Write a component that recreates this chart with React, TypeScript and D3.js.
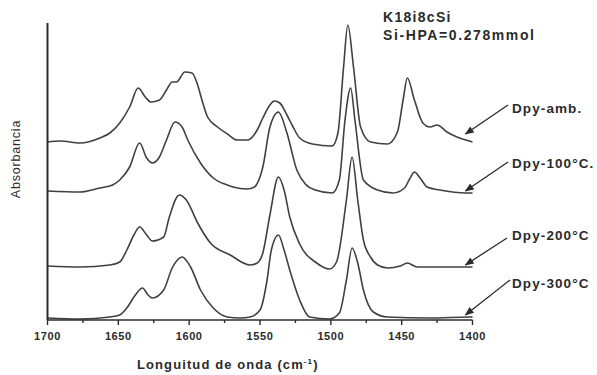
import React from "react";
import * as d3 from "d3";

// Wavenumber (cm^-1), absorbance (offset traces)
const ambWn = [1700,1691,1677,1663,1656,1649,1642,1636,1631,1627,1621,1616,1612,1609,1603,1598,1594,1591,1587,1580,1573,1566,1559,1552,1548,1543,1540,1536,1531,1527,1522,1513,1499,1495,1491,1488,1484,1479,1472,1460,1453,1449,1446,1441,1435,1430,1425,1418,1411,1407,1400];
const ambAbs = [1.78,1.79,1.77,1.82,1.87,1.97,2.13,2.32,2.23,2.18,2.20,2.30,2.38,2.38,2.48,2.47,2.35,2.20,2.03,1.93,1.86,1.80,1.80,1.90,2.02,2.15,2.19,2.17,2.05,1.94,1.82,1.76,1.74,1.87,2.53,2.95,2.53,1.93,1.78,1.76,1.88,2.20,2.42,2.20,1.97,1.93,1.95,1.88,1.83,1.81,1.78];

const t100Wn = [1700,1677,1663,1654,1649,1642,1635,1630,1626,1621,1616,1610,1605,1601,1592,1583,1573,1569,1559,1554,1548,1543,1537,1531,1524,1518,1511,1499,1494,1490,1486,1483,1477,1467,1456,1448,1444,1441,1437,1432,1423,1404,1400];
const t100Abs = [1.29,1.28,1.32,1.35,1.40,1.53,1.77,1.62,1.57,1.63,1.80,1.98,1.93,1.80,1.57,1.42,1.35,1.33,1.31,1.33,1.53,1.93,2.08,1.87,1.50,1.36,1.30,1.27,1.40,2.00,2.32,2.00,1.40,1.30,1.27,1.32,1.42,1.48,1.42,1.33,1.30,1.27,1.27];

const t200Wn = [1700,1677,1656,1649,1644,1639,1635,1630,1626,1618,1614,1607,1602,1594,1585,1571,1557,1552,1548,1543,1537,1533,1529,1522,1510,1501,1496,1489,1485,1481,1477,1472,1467,1460,1451,1446,1439,1423,1402,1400];
const t200Abs = [0.54,0.53,0.55,0.58,0.70,0.85,0.93,0.85,0.79,0.83,1.03,1.25,1.20,0.97,0.77,0.65,0.55,0.57,0.67,1.05,1.43,1.30,1.03,0.76,0.57,0.51,0.58,1.20,1.63,1.20,0.80,0.63,0.55,0.52,0.54,0.57,0.53,0.53,0.53,0.53];

const t300Wn = [1700,1677,1656,1649,1644,1638,1633,1629,1626,1618,1612,1605,1599,1592,1583,1573,1564,1557,1550,1545,1542,1537,1533,1529,1522,1515,1501,1494,1489,1485,1481,1477,1470,1460,1430,1402,1400];
const t300Abs = [0.02,0.01,0.03,0.05,0.12,0.25,0.32,0.25,0.22,0.30,0.52,0.63,0.53,0.30,0.12,0.03,0.02,0.03,0.10,0.40,0.70,0.85,0.70,0.50,0.20,0.03,0.01,0.07,0.40,0.72,0.57,0.30,0.08,0.03,0.02,0.03,0.03];

const seriesLabels = ["Dpy-amb.", "Dpy-100°C.", "Dpy-200°C", "Dpy-300°C"];
const xTicks = [1700, 1650, 1600, 1550, 1500, 1450, 1400];
const xMinorTicks = [1675, 1625, 1575, 1525, 1475, 1425];
const titleLines = ["K18i8cSi", "Si-HPA=0.278mmol"];

export default function App() {
  const W = 597, H = 375;
  const x = d3.scaleLinear().domain([1700, 1400]).range([47.5, 472.5]);
  const y = d3.scaleLinear().domain([0, 2.97]).range([320, 23]);
  const line = d3
    .line<[number, number]>()
    .x((d) => x(d[0]))
    .y((d) => y(d[1]))
    .curve(d3.curveMonotoneX);

  const series: [number[], number[]][] = [
    [ambWn, ambAbs],
    [t100Wn, t100Abs],
    [t200Wn, t200Abs],
    [t300Wn, t300Abs],
  ];

  // label layout (pixels) and arrow tips
  const labelPos = [
    { lx: 512, ly: 113, sx: 508, sy: 105, tipWn: 1405, dy: -5 },
    { lx: 512, ly: 168, sx: 508, sy: 162, tipWn: 1405, dy: -2 },
    { lx: 512, ly: 240, sx: 507, sy: 238, tipWn: 1405, dy: -2 },
    { lx: 512, ly: 288, sx: 510, sy: 280, tipWn: 1405, dy: -2 },
  ];

  const font = "'Liberation Sans', Arial, sans-serif";
  const ink = "#2b2b2b";

  return (
    <svg
      width={W}
      height={H}
      style={{ position: "absolute", left: 0, top: 0, background: "#fff" }}
      fontFamily={font}
    >
      <defs>
        <marker id="ah" viewBox="0 0 10 10" refX="9" refY="5" markerWidth="7" markerHeight="7" orient="auto">
          <path d="M0,1 L10,5 L0,9 Z" fill={ink} />
        </marker>
      </defs>
      <rect width={W} height={H} fill="#fff" />

      {series.map(([wn, ab], i) => (
        <path
          key={i}
          d={line(wn.map((w, j) => [w, ab[j]] as [number, number])) || ""}
          fill="none"
          stroke="#404040"
          strokeWidth={1.6}
          strokeLinejoin="round"
        />
      ))}

      {/* y axis */}
      <line x1={x(1700)} x2={x(1700)} y1={y(2.97)} y2={y(0)} stroke={ink} strokeWidth={2} />
      {/* x axis */}
      <line x1={x(1700)} x2={x(1400)} y1={y(0)} y2={y(0)} stroke={ink} strokeWidth={1.6} />
      {xTicks.map((t) => (
        <g key={t}>
          <line x1={x(t)} x2={x(t)} y1={y(0)} y2={y(0) + 5} stroke={ink} strokeWidth={1.4} />
          <text x={x(t)} y={339.5} textAnchor="middle" fontSize={11} fontWeight="bold" fill={ink} letterSpacing={0.6}>
            {t}
          </text>
        </g>
      ))}
      {xMinorTicks.map((t) => (
        <line key={t} x1={x(t)} x2={x(t)} y1={y(0)} y2={y(0) + 3} stroke={ink} strokeWidth={1.4} />
      ))}

      <text x={137} y={369} fontSize={13} fontWeight="bold" fill={ink} letterSpacing={1.1}>
        Longuitud de onda (cm
        <tspan dy={-5} fontSize={8}>-1</tspan>
        <tspan dy={5}>)</tspan>
      </text>

      <text
        transform={`translate(20,159) rotate(-90)`}
        textAnchor="middle"
        fontSize={12.5}
        fill={ink}
        letterSpacing={0.8}
      >
        Absorbancia
      </text>

      {titleLines.map((t, i) => (
        <text key={t} x={383} y={22 + i * 17.5} fontSize={14} fontWeight="bold" fill={ink} letterSpacing={i === 0 ? 1.3 : 1.6}>
          {t}
        </text>
      ))}

      {seriesLabels.map((lab, i) => {
        const p = labelPos[i];
        const [wn, ab] = series[i];
        const idx = d3.minIndex(wn, (w) => Math.abs(w - p.tipWn));
        const tx = x(p.tipWn);
        const ty = y(ab[idx]) + p.dy;
        return (
          <g key={lab}>
            <line x1={p.sx} y1={p.sy} x2={tx} y2={ty} stroke={ink} strokeWidth={1.3} markerEnd="url(#ah)" />
            <text x={p.lx} y={p.ly} fontSize={13.5} fontWeight="bold" fill={ink} letterSpacing={1.1}>
              {lab}
            </text>
          </g>
        );
      })}
    </svg>
  );
}
